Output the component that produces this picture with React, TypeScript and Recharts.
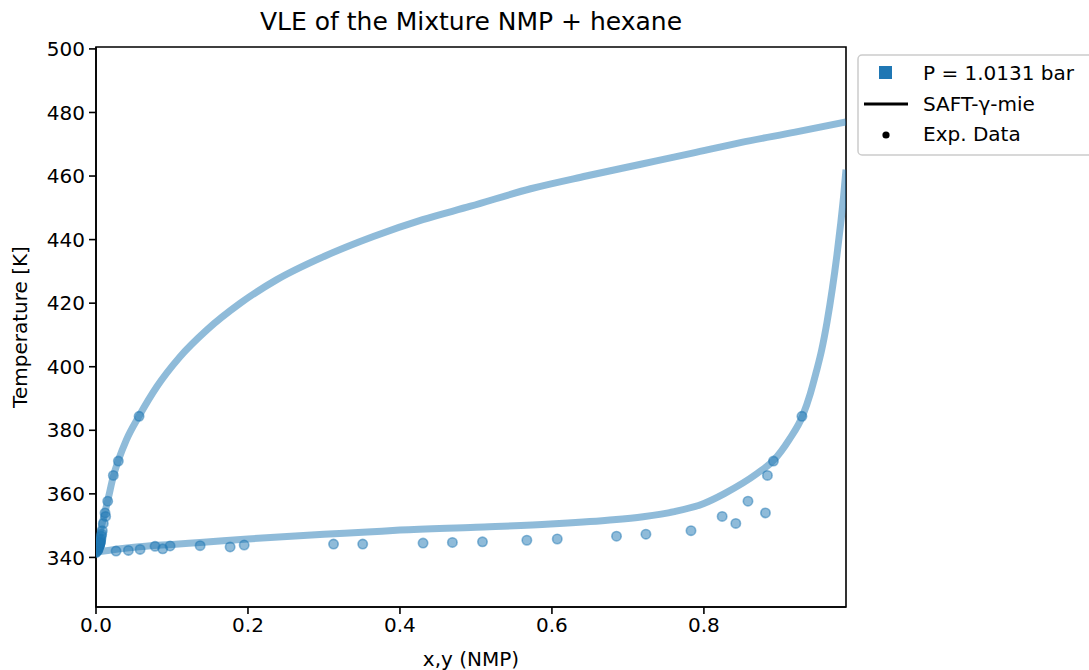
import { ComposedChart, Line, Scatter, XAxis, YAxis, ReferenceArea } from 'recharts';

// SAFT-gamma-mie curves (dew = vapour branch, bubble = liquid branch)
const dewX = [0, 0.003, 0.006, 0.009, 0.012, 0.016, 0.0228, 0.0294, 0.04, 0.0567, 0.08, 0.11, 0.146, 0.19, 0.238, 0.3, 0.365, 0.43, 0.493, 0.572, 0.645, 0.717, 0.785, 0.848, 0.92, 0.987];
const dewT = [341.7, 345, 348.5, 351.5, 354.5, 358.5, 365.5, 370.5, 377, 384.5, 393.7, 403, 411.6, 420, 427.4, 434.7, 441, 446.3, 450.5, 456, 460, 463.7, 467.2, 470.5, 473.8, 477];

const bubX = [0, 0.05, 0.1, 0.137, 0.2, 0.3, 0.357, 0.4, 0.5, 0.598, 0.673, 0.72, 0.761, 0.8, 0.827, 0.87, 0.892, 0.912, 0.93, 0.94, 0.948, 0.955, 0.962, 0.969, 0.975, 0.98, 0.984, 0.987];
const bubT = [341.7, 343.2, 344.1, 344.7, 345.8, 347.3, 348, 348.6, 349.5, 350.5, 351.7, 352.8, 354.4, 357, 360.1, 366.4, 370.6, 377, 384.6, 391.5, 398.5, 405.3, 414, 424.5, 435, 445, 454, 462];

// experimental data at P = 1.0131 bar
const expT = [341.6, 342.0, 342.2, 342.5, 342.7, 343.3, 343.5, 343.6, 343.7, 343.9, 344.2, 344.2, 344.5, 344.7, 344.9, 345.4, 345.8, 346.7, 347.3, 348.4, 350.7, 352.9, 354.0, 357.7, 365.8, 370.3, 384.4];
const expX = [0, 0.0264, 0.0426, 0.058, 0.0878, 0.1765, 0.0777, 0.0975, 0.137, 0.195, 0.3126, 0.351, 0.4304, 0.469, 0.5086, 0.567, 0.607, 0.685, 0.7237, 0.783, 0.842, 0.824, 0.881, 0.858, 0.8836, 0.8915, 0.929];
const expY = [0, 0.0015, 0.002, 0.0025, 0.003, 0.0035, 0.0038, 0.004, 0.0042, 0.0045, 0.0048, 0.005, 0.0052, 0.0055, 0.0058, 0.006, 0.0064, 0.007, 0.0075, 0.0083, 0.0096, 0.0127, 0.0119, 0.0154, 0.0228, 0.0294, 0.0567];

const xTicks = [0, 0.2, 0.4, 0.6, 0.8];
const yTicks = [340, 360, 380, 400, 420, 440, 460, 480, 500];

const dewData = dewX.map((x, i) => ({ x, T: dewT[i] }));
const bubData = bubX.map((x, i) => ({ x, T: bubT[i] }));
const liqData = expX.map((x, i) => ({ x, T: expT[i] }));
const vapData = expY.map((x, i) => ({ x, T: expT[i] }));

const C0 = '#1f77b4';
const FONT = 'DejaVu Sans, sans-serif';
const X_MAX = 0.987;
const Y_MIN = 324.4;
const Y_MAX = 500.6;

const dot = (p: any) => (
  <circle cx={p.cx} cy={p.cy} r={4.7} fill={C0} fillOpacity={0.5} stroke={C0} strokeOpacity={0.5} strokeWidth={1.6} />
);

function LegendBox() {
  return (
    <svg width={240} height={102} style={{ display: 'block' }}>
      <rect x={1} y={1} width={250} height={100} rx={4} fill="#fff" stroke="#cccccc" strokeWidth={1.5} />
      <rect x={22} y={12} width={13} height={13} fill={C0} />
      <text x={66} y={26} fontSize={20} fontFamily={FONT} fill="#000">P = 1.0131 bar</text>
      <line x1={7} y1={50} x2={51} y2={50} stroke="#000" strokeWidth={3} />
      <text x={66} y={57} fontSize={20} fontFamily={FONT} fill="#000">SAFT-γ-mie</text>
      <circle cx={29} cy={81} r={3.6} fill="#000" />
      <text x={66} y={87} fontSize={20} fontFamily={FONT} fill="#000">Exp. Data</text>
    </svg>
  );
}

export default function App() {
  return (
    <div style={{ position: 'absolute', left: 0, top: 0, width: 1089, height: 670, overflow: 'hidden', background: '#fff' }}>
      <div style={{ position: 'absolute', left: 471, top: 0, transform: 'translateX(-50%)', whiteSpace: 'nowrap', fontFamily: FONT, fontSize: 25, lineHeight: '44px' }}>
        VLE of the Mixture NMP + hexane
      </div>
      <ComposedChart width={1089} height={670} margin={{ top: 47, right: 243, bottom: 0, left: 0 }} style={{ fontFamily: FONT }}>
        <XAxis
          type="number"
          dataKey="x"
          domain={[0, X_MAX]}
          allowDataOverflow
          ticks={xTicks}
          tickFormatter={(v: number) => v.toFixed(1)}
          height={63}
          tickSize={7}
          tickMargin={4}
          stroke="#000"
          strokeWidth={1.6}
          tick={{ fill: '#000', fontSize: 20 }}
          label={{ value: 'x,y (NMP)', position: 'insideBottom', offset: 4, fill: '#000', fontSize: 20 }}
        />
        <YAxis
          type="number"
          dataKey="T"
          domain={[Y_MIN, Y_MAX]}
          allowDataOverflow
          ticks={yTicks}
          width={96}
          tickSize={7}
          tickMargin={4}
          stroke="#000"
          strokeWidth={1.6}
          tick={{ fill: '#000', fontSize: 20 }}
          label={{ value: 'Temperature [K]', angle: -90, position: 'insideLeft', offset: 20, fill: '#000', fontSize: 20, style: { textAnchor: 'middle' } }}
        />
        <Line data={dewData} dataKey="T" type="monotone" stroke={C0} strokeOpacity={0.5} strokeWidth={7} dot={false} activeDot={false} isAnimationActive={false} />
        <Line data={bubData} dataKey="T" type="monotone" stroke={C0} strokeOpacity={0.5} strokeWidth={7} dot={false} activeDot={false} isAnimationActive={false} />
        <Scatter data={liqData} dataKey="T" shape={dot} isAnimationActive={false} />
        <Scatter data={vapData} dataKey="T" shape={dot} isAnimationActive={false} />
        <ReferenceArea x1={0} x2={X_MAX} y1={Y_MIN} y2={Y_MAX} fill="none" stroke="#000" strokeWidth={1.6} ifOverflow="visible" />
      </ComposedChart>
      <div style={{ position: 'absolute', left: 857, top: 54 }}>
        <LegendBox />
      </div>
    </div>
  );
}
